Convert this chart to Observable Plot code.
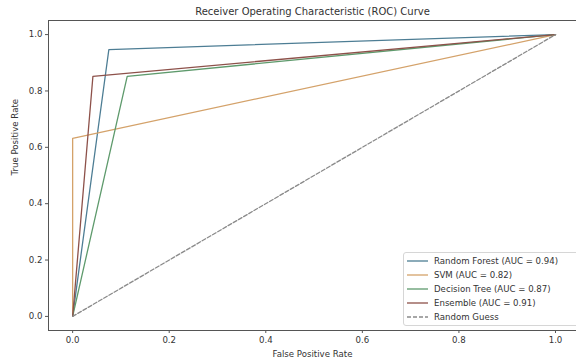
<!DOCTYPE html>
<html>
<head>
<meta charset="utf-8">
<script src="https://cdn.jsdelivr.net/npm/d3@7"></script>
<script src="https://cdn.jsdelivr.net/npm/@observablehq/plot@0.6"></script>
<style>
  html, body { margin: 0; padding: 0; background: white; }
  #wrap { position: relative; width: 576px; height: 362px; overflow: hidden; font-family: "DejaVu Sans", sans-serif; }
  #legend { position: absolute; left: 403px; top: 252px; width: 176px; height: 74px; box-sizing: border-box;
            border: 1px solid #d6d6d6; border-radius: 3px; background: rgba(255,255,255,0.85); }
  .row { position: absolute; left: 3px; height: 14px; display: flex; align-items: center; font-size: 8.6px; color: #333; white-space: nowrap; }
  .row svg { margin-right: 6px; }
</style>
</head>
<body>
<div id="wrap"></div>
<script>
const titleText = "Receiver Operating Characteristic (ROC) Curve";
const xLabel = "False Positive Rate";
const yLabel = "True Positive Rate";
const tickValues = [0, 0.2, 0.4, 0.6, 0.8, 1.0];

const seriesNames = ["Random Forest (AUC = 0.94)", "SVM (AUC = 0.82)", "Decision Tree (AUC = 0.87)", "Ensemble (AUC = 0.91)", "Random Guess"];
const seriesColors = ["#4d7d94", "#d4a26a", "#5e9a6c", "#8d514a", "#8a8a8a"];

const rfFpr = [0, 0.075, 1];
const rfTpr = [0, 0.947, 1];
const svmFpr = [0, 0, 1];
const svmTpr = [0, 0.632, 1];
const dtFpr = [0, 0.113, 1];
const dtTpr = [0, 0.852, 1];
const ensFpr = [0, 0.042, 1];
const ensTpr = [0, 0.852, 1];
const randFpr = [0, 1];
const randTpr = [0, 1];

const curves = [
  [rfFpr, rfTpr], [svmFpr, svmTpr], [dtFpr, dtTpr], [ensFpr, ensTpr], [randFpr, randTpr]
].map(([f, t], i) => f.map((x, j) => ({x, y: t[j], s: seriesNames[i]})));

const lineMarks = curves.map((d, i) => Plot.line(d, {
  x: "x", y: "y",
  stroke: seriesColors[i],
  strokeWidth: 1.3,
  strokeDasharray: i === 4 ? "4,2" : null
}));

const chart = Plot.plot({
  width: 576, height: 362,
  marginLeft: 48, marginRight: 0, marginTop: 20, marginBottom: 32,
  style: {fontFamily: "DejaVu Sans", fontSize: "8.6px", color: "#333", background: "white", overflow: "visible"},
  x: {domain: [-0.05, 1.0435]},
  y: {domain: [-0.05, 1.05]},
  marks: [
    Plot.axisX({ticks: tickValues, tickFormat: d3.format(".1f"), tickSize: 3, tickPadding: 3, label: null, stroke: "#555"}),
    Plot.axisY({ticks: tickValues, tickFormat: d3.format(".1f"), tickSize: 3, tickPadding: 3, label: null, stroke: "#555"}),
    ...lineMarks,
    Plot.ruleY([-0.05, 1.05], {stroke: "#555", strokeWidth: 1}),
    Plot.ruleX([-0.05], {stroke: "#555", strokeWidth: 1}),
    Plot.text([titleText], {frameAnchor: "top", dy: -13, fontSize: 10, fill: "#333"}),
    Plot.text([xLabel], {frameAnchor: "bottom", dy: 26, fontSize: 8.6, fill: "#333"}),
    Plot.text([yLabel], {frameAnchor: "left", dx: -33, rotate: -90, fontSize: 8.6, fill: "#333"})
  ]
});

const wrap = document.getElementById("wrap");
wrap.appendChild(chart);

const legend = document.createElement("div");
legend.id = "legend";
seriesNames.forEach((name, i) => {
  const row = document.createElement("div");
  row.className = "row";
  row.style.top = (1 + i * 14) + "px";
  const dash = i === 4 ? 'stroke-dasharray="4,2"' : "";
  row.innerHTML = `<svg width="21" height="6"><line x1="0" y1="3" x2="21" y2="3" stroke="${seriesColors[i]}" stroke-width="1.3" ${dash}/></svg><span>${name}</span>`;
  legend.appendChild(row);
});
wrap.appendChild(legend);
</script>
</body>
</html>
